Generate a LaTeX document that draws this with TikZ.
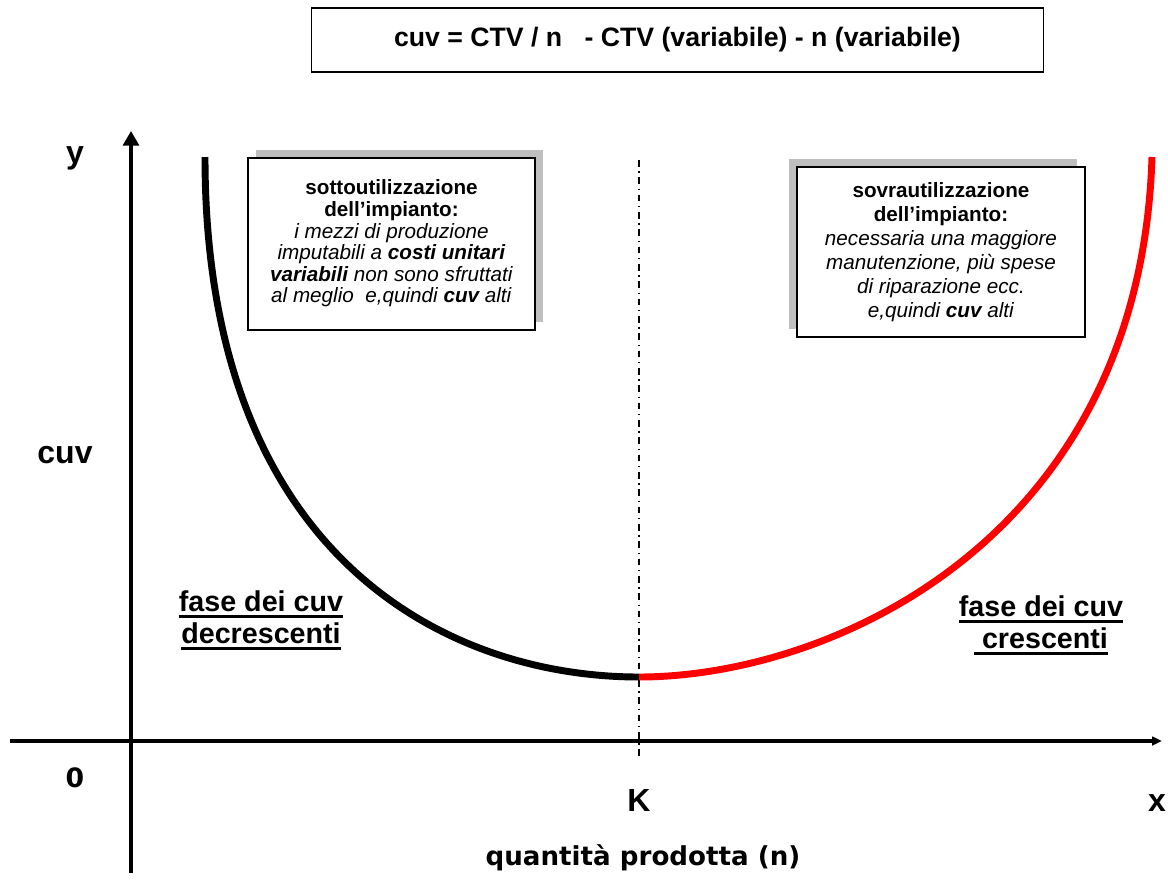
\documentclass[tikz,border=0pt]{standalone}
\usepackage{fontspec}
\setmainfont{Liberation Sans}
\newfontfamily\verdanalike{DejaVu Sans}
\usetikzlibrary{arrows.meta,shadows}

\newcommand{\thickul}[1]{\setbox0=\hbox{#1}\leavevmode\rlap{\rule[-5pt]{\wd0}{2pt}}\box0}

\tikzset{
  infobox/.style={draw, line width=1.5pt, fill=white, align=center, inner sep=0pt,
    minimum width=215pt, minimum height=129pt,
    font=\fontsize{15.5}{16.2}\selectfont},
  shadowright/.style={drop shadow={shadow xshift=6pt, shadow yshift=6pt, opacity=1, fill=black!25}},
  shadowleft/.style={drop shadow={shadow xshift=-6pt, shadow yshift=6pt, opacity=1, fill=black!25}},
  axislabel/.style={font=\bfseries\fontsize{24}{28}\selectfont},
  phase/.style={align=center, font=\bfseries\fontsize{21.5}{24}\selectfont},
  axis/.style={line width=2.5pt},
  curve/.style={line width=5.2pt},
}

\begin{document}
\begin{tikzpicture}[x=0.75pt, y=-0.75pt, thick]
\useasboundingbox (0,0) rectangle (1168,879);

% formula
\node[draw, line width=1.2pt, minimum width=549pt, minimum height=48pt,
  font=\bfseries\fontsize{20}{23}\selectfont] (formula) at (677.5,40)
  {cuv = CTV / n \ \ - CTV (variabile) - n (variabile)};

% axes
\coordinate (ybot) at (131,873);
\coordinate (ytip) at (131,131);
\coordinate (xleft) at (10,741);
\coordinate (xtip) at (1162,741);
\draw[axis, -{Triangle[length=11pt, width=12pt]}] (ybot) -- (ytip);
\draw[axis, -{Triangle[length=7.5pt, width=6.5pt]}] (xleft) -- (xtip);

% K line
\coordinate (ktop) at (639,160);
\coordinate (kbot) at (639,760);
\draw[line width=1.1pt, dash pattern=on 5pt off 3.5pt on 1pt off 3.5pt] (ktop) -- (kbot);

% cuv curve
\coordinate (ltop) at (205,157);
\coordinate (kmin) at (639,677);
\coordinate (rtop) at (1152,157);
\draw[curve, black] (ltop) .. controls (205,560) and (450,677) .. (kmin);
\draw[curve, red] (kmin) .. controls (830,677) and (1140,540) .. (rtop);

% boxes
\node[infobox, shadowright] (under) at (391.5,243.5)
  {\textbf{sottoutilizzazione}\\ \textbf{dell’impianto:}\\
   \textit{i mezzi di produzione}\\
   \textit{imputabili a \textbf{costi unitari}}\\
   \textit{\textbf{variabili} non sono sfruttati}\\
   \textit{al meglio \ e,quindi \textbf{cuv} alti}};
\node[infobox, shadowleft, minimum width=216pt, minimum height=128pt,
  font=\fontsize{15.5}{18}\selectfont] (over) at (941,252)
  {\textbf{sovrautilizzazione}\\ \textbf{dell’impianto:}\\
   \textit{necessaria una maggiore}\\
   \textit{manutenzione, più spese}\\
   \textit{di riparazione ecc.}\\
   \textit{e,quindi \textbf{cuv} alti}};

% labels
\node[axislabel] (ylab) at (75,158) {y};
\node[axislabel] (cuvlab) at (65,455) {cuv};
\node[axislabel, font=\verdanalike\bfseries\fontsize{20}{24}\selectfont] (zero) at (75,778) {0};
\node[axislabel] (klab) at (639,800) {K};
\node[axislabel] (xlab) at (1157,803) {x};
\node[font=\verdanalike\bfseries\fontsize{19.6}{24}\selectfont] (qlab) at (643,858) {quantità prodotta (n)};

\node[phase] (decr) at (261,620) {\thickul{fase dei cuv}\\ \thickul{decrescenti}};
\node[phase] (cresc) at (1041,625) {\thickul{fase dei cuv}\\ \thickul{\ crescenti}};
\end{tikzpicture}
\end{document}
